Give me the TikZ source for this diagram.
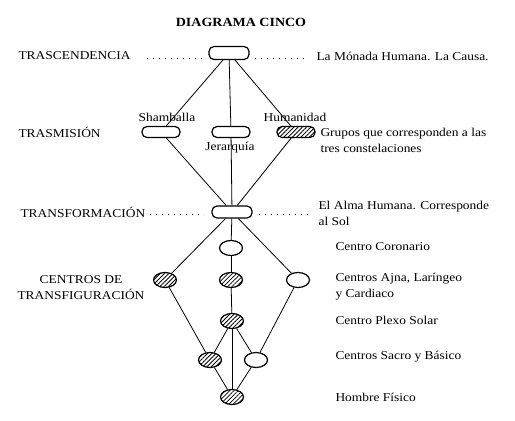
\documentclass[tikz,border=0pt]{standalone}
\usepackage{fontspec}
\setmainfont{Liberation Serif}[FakeStretch=1.12]
\usetikzlibrary{shapes.geometric,patterns.meta}
\begin{document}
\begin{tikzpicture}[x=1pt, y=-1pt,
  every node/.style={font=\fontsize{12}{16}\selectfont},
  pill/.style={draw, line width=1.2pt, rounded corners=5pt, inner sep=0pt,
               minimum width=38pt, minimum height=11pt, fill=white},
  centro/.style={draw, ellipse, line width=1.2pt, inner sep=0pt,
                 minimum width=23pt, minimum height=15pt, fill=white},
  hatch/.style={pattern={Lines[angle=45, distance=3pt, line width=0.8pt]}},
  line/.style={line width=0.8pt},
  dots/.style={line width=1pt, dash pattern=on 1pt off 5pt}
]
\useasboundingbox (0,0) rectangle (515,421);
\node[font=\fontsize{12.5}{15}\selectfont\bfseries] (tit) at (241,22) {DIAGRAMA CINCO};
% niveles
\node[anchor=west] (trc) at (15,56)  {TRASCENDENCIA};
\node[anchor=west] (trm) at (15,132) {TRASMISIÓN};
\node[anchor=west] (trf) at (17,212) {TRANSFORMACIÓN};
\node[align=center] (tfg) at (81,288) {CENTROS DE\\TRANSFIGURACIÓN};
% centros
\node[pill, minimum width=40pt, minimum height=13pt] (mon) at (229,53) {};
\node[pill]          (sha)  at (161,132) {};
\node[pill]          (jer)  at (231,132) {};
\node[pill, hatch]   (hum)  at (296,132) {};
\node[pill, minimum width=40pt, minimum height=12pt] (alma) at (232,212) {};
\node[centro]        (cor)  at (231,248) {};
\node[centro, hatch] (ajn)  at (165,280) {};
\node[centro, hatch] (lar)  at (231,280) {};
\node[centro]        (car)  at (298,280) {};
\node[centro, hatch] (ple)  at (232,321) {};
\node[centro, hatch] (sac)  at (210,360) {};
\node[centro]        (bas)  at (256,360) {};
\node[centro, hatch] (fis)  at (232,397) {};
% rotulos
\node (tsha) at (167,117) {Shamballa};
\node (thum) at (295,117) {Humanidad};
\node (tjer) at (230,148) {Jerarquía};
\node[anchor=west] (tmon) at (313,56) {La Mónada Humana. La Causa.};
\node[anchor=west, align=left] (tgru) at (317,140) {Grupos que corresponden a las\\tres constelaciones};
\node[anchor=west, align=left] (talm) at (315,213) {El Alma Humana. Corresponde\\al Sol};
\node[anchor=west] (tcor) at (332,247) {Centro Coronario};
\node[anchor=west, align=left] (tajn) at (332,287) {Centros Ajna, Laríngeo\\y Cardiaco};
\node[anchor=west] (tple) at (332,320) {Centro Plexo Solar};
\node[anchor=west] (tsac) at (332,357) {Centros Sacro y Básico};
\node[anchor=west] (tfis) at (332,397) {Hombre Físico};
% punteados
\coordinate (p1) at (147,58); \coordinate (p2) at (202,58);
\coordinate (p3) at (255,58); \coordinate (p4) at (304,58);
\coordinate (p5) at (150,214); \coordinate (p6) at (204,214);
\coordinate (p7) at (259,214); \coordinate (p8) at (310,214);
\draw[dots](p1)--(p2); \draw[dots](p3)--(p4);
\draw[dots](p5)--(p6); \draw[dots](p7)--(p8);
% conexiones
\draw[line](mon)--(sha); \draw[line](mon)--(jer); \draw[line](mon)--(hum);
\draw[line](sha)--(alma); \draw[line](jer)--(alma); \draw[line](hum)--(alma);
\draw[line](alma)--(cor); \draw[line](alma)--(ajn); \draw[line](alma)--(car);
\draw[line](cor)--(lar); \draw[line](lar)--(ple);
\draw[line](ajn)--(sac); \draw[line](car)--(bas);
\draw[line](ple)--(sac); \draw[line](ple)--(bas); \draw[line](ple)--(fis);
\draw[line](sac)--(fis); \draw[line](bas)--(fis);
\end{tikzpicture}
\end{document}
